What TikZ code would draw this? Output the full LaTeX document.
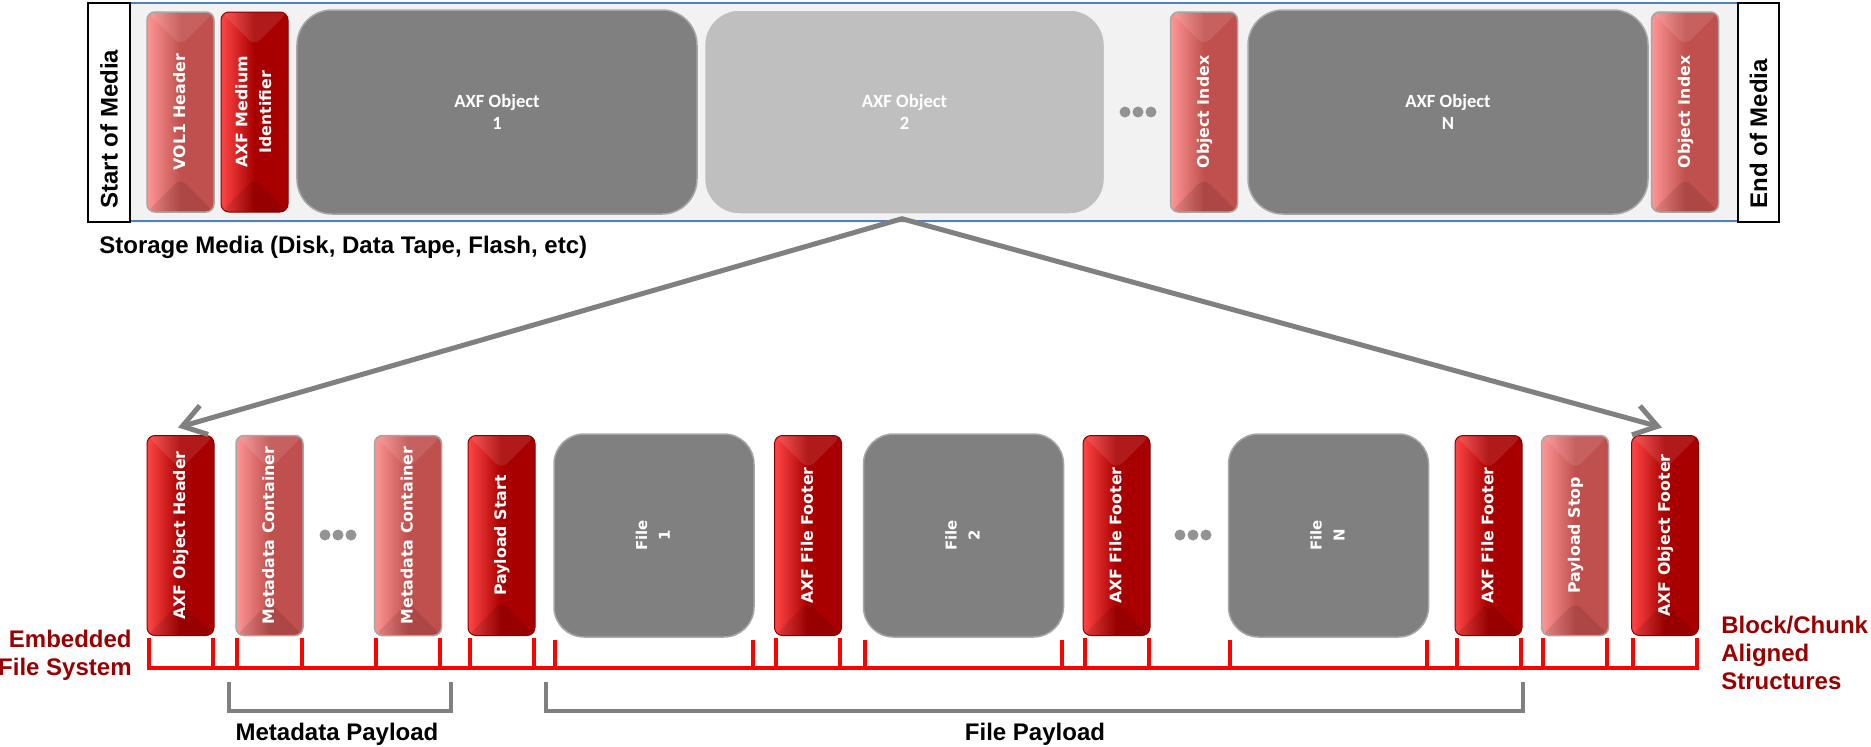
\documentclass[tikz,border=0pt]{standalone}
\usepackage{fontspec}
\setmainfont{Liberation Sans}
\newfontfamily\blockfont{DejaVu Sans}
\newfontfamily\objfont{Carlito}
\usetikzlibrary{positioning, calc, arrows.meta, backgrounds}

\definecolor{axfRed}{RGB}{168,0,0}
\definecolor{axfRedHi}{RGB}{255,70,70}
\definecolor{axfPink}{RGB}{192,80,77}
\definecolor{axfPinkHi}{RGB}{255,150,150}
\definecolor{axfGray}{RGB}{128,128,128}
\definecolor{axfLight}{RGB}{191,191,191}
\definecolor{labelRed}{RGB}{155,0,0}
\definecolor{chunkRed}{RGB}{255,0,0}
\definecolor{stripBlue}{RGB}{79,129,189}
\definecolor{stripFill}{RGB}{242,242,242}

% vertical (bottom-to-top) text inside a block
\newcommand{\vtext}[1]{\rotatebox{90}{\begin{tabular}{@{}c@{}}#1\end{tabular}}}

\begin{document}
\begin{tikzpicture}[
    x=0.2mm, y=-0.2mm,
    >={Straight Barb[length=4.5mm, width=6mm]},
    block/.style={rectangle, rounded corners=1.6mm, minimum width=13.4mm, minimum height=40mm,
        inner sep=0pt, text=white, font=\blockfont\bfseries\fontsize{9}{13.5}\selectfont,
        path picture={
            \fill[white, opacity=0.10] (path picture bounding box.north west) -- (path picture bounding box.north east)
                -- ([yshift=-6.7mm]path picture bounding box.north) -- cycle;
            \fill[black, opacity=0.10] (path picture bounding box.south west) -- (path picture bounding box.south east)
                -- ([yshift=6.7mm]path picture bounding box.south) -- cycle;
        }},
    redblk/.style={block, draw=axfRed!80!black, line width=0.2mm, left color=axfRedHi, right color=axfRed, middle color=axfRed},
    pinkblk/.style={block, draw=gray!70, line width=0.3mm, left color=axfPinkHi, right color=axfPink, middle color=axfPink},
    bigobj/.style={rectangle, rounded corners=7mm, minimum width=80mm, minimum height=40.8mm, fill=axfGray,
        draw=gray!70!white, line width=0.3mm, text=white, align=center,
        font=\objfont\bfseries\fontsize{10.6}{13}\selectfont},
    fileobj/.style={rectangle, rounded corners=6mm, minimum width=40mm, minimum height=40.6mm, fill=axfGray,
        draw=gray!70!white, line width=0.3mm, text=white, inner sep=0pt,
        font=\blockfont\bfseries\fontsize{8.5}{13}\selectfont},
    ellip/.style={circle, fill=axfGray!85!white, minimum size=2.2mm, inner sep=0pt},
    mediabox/.style={rectangle, draw=black, fill=white, line width=0.4mm, minimum width=8.3mm, minimum height=43.8mm,
        inner sep=0pt, text height=38.4mm, text depth=0pt, font=\bfseries\fontsize{13.66}{16}\selectfont},
    stripline/.style={draw=stripBlue, line width=0.5mm},
    chunk/.style={draw=chunkRed, line width=0.8mm, line cap=rect},
    bracket/.style={draw=axfGray, line width=0.8mm},
    zoomarr/.style={<->, draw=axfGray, line width=1mm},
    redlbl/.style={text=labelRed, font=\bfseries\fontsize{13.66}{15.9}\selectfont, inner sep=0pt},
    paylbl/.style={font=\bfseries\fontsize{13.66}{16}\selectfont, inner sep=0pt}
]
\useasboundingbox (0,0) rectangle (1871,747);

% storage media
\node[mediabox] (startM) at (109, 112.5) {\rotatebox{90}{Start of Media}};
\node[mediabox] (endM) at (1758.5, 112.5) {\rotatebox{90}{End of Media}};

\node[pinkblk] (vol) at (180.5,112) {\vtext{VOL1 Header}};
\node[redblk] (ami) at (254.5,112) {\vtext{AXF Medium\\Identifier}};
\node[bigobj] (obj1) at (497,112) {AXF Object\\1};
\node[bigobj, fill=axfLight, draw=white!90!gray] (obj2) at (904.5,112) {AXF Object\\2};
\foreach \k in {1,2,3} {
    \node[ellip] (dtop\k) at (1112+13*\k, 112) {};
}
\node[pinkblk] (idx1) at (1204,112) {\vtext{Object Index}};
\node[bigobj] (objN) at (1448,112) {AXF Object\\N};
\node[pinkblk] (idx2) at (1685,112) {\vtext{Object Index}};

\node[paylbl, anchor=base west] (media) at (99,253) {Storage Media (Disk, Data Tape, Flash, etc)};

% AXF object
\node[redblk] (hdr) at (180.5,535.5) {\vtext{AXF Object Header}};
\node[pinkblk] (mc1) at (269.5,535.5) {\vtext{Metadata Container}};
\foreach \k in {1,2,3} {
    \node[ellip] (dmd\k) at (325+13*\k-13, 535) {};
}
\node[pinkblk] (mc2) at (408,535.5) {\vtext{Metadata Container}};
\node[redblk] (pst) at (501.5,535.5) {\vtext{Payload Start}};
\node[fileobj] (f1) at (654,535.5) {\vtext{File\\1}};
\node[redblk] (ff1) at (808,535.5) {\vtext{AXF File Footer}};
\node[fileobj] (f2) at (963.5,535.5) {\vtext{File\\2}};
\node[redblk] (ff2) at (1116.5,535.5) {\vtext{AXF File Footer}};
\foreach \k in {1,2,3} {
    \node[ellip] (dfl\k) at (1180+13*\k-13, 535) {};
}
\node[fileobj] (fN) at (1328.5,535.5) {\vtext{File\\N}};
\node[redblk] (ff3) at (1488.5,535.5) {\vtext{AXF File Footer}};
\node[pinkblk] (psp) at (1575,535.5) {\vtext{Payload Stop}};
\node[redblk] (ftr) at (1665,535.5) {\vtext{AXF Object Footer}};

\draw[zoomarr] ($(hdr.north)+(-2.5,-7.5)$) -- ($(obj2.south)+(-2.5,4)$) -- ($(ftr.north)+(-3,-7.5)$);

% block alignment
\coordinate (base) at (0,668);
\draw[chunk] ($(hdr.south west |- base)+(2,0)$) -- ($(ftr.south east |- base)+(-2,0)$);
\foreach \n in {hdr,mc1,mc2,pst,f1,ff1,f2,ff2,fN,ff3,psp,ftr} {
    \draw[chunk] ($(\n.south west)+(2,4)$) -- ($(\n.south west |- base)+(2,0)$);
    \draw[chunk] ($(\n.south east)+(-2,4)$) -- ($(\n.south east |- base)+(-2,0)$);
}

\node[redlbl, align=right, anchor=base east] (efs) at (132,675) {Embedded\\File System};
\node[redlbl, align=left, anchor=base west] (bca) at (1721,689) {Block/Chunk\\Aligned\\Structures};

% payload brackets
\coordinate (bktop) at (0,682);
\coordinate (bkbot) at (0,711);
\draw[bracket] ($(mc1.south west |- bktop)+(-6,0)$) -- ($(mc1.south west |- bkbot)+(-6,0)$)
    -- ($(mc2.south east |- bkbot)+(9,0)$) -- ($(mc2.south east |- bktop)+(9,0)$);
\draw[bracket] ($(f1.south west |- bktop)+(-7,0)$) -- ($(f1.south west |- bkbot)+(-7,0)$)
    -- ($(ff3.south east |- bkbot)$) -- ($(ff3.south east |- bktop)$);

\node[paylbl, anchor=base] (mdpay) at (337,740) {Metadata Payload};
\node[paylbl, anchor=base] (fpay) at (1035,740) {File Payload};

\begin{pgfonlayer}{background}
    \fill[white] (0,0) rectangle (1871,747);
    \fill[stripFill] (startM.north east) rectangle (endM.south west);
    \draw[stripline] ($(startM.north east)+(0,1)$) -- ($(endM.north west)+(0,1)$);
    \draw[stripline] ($(startM.south east)+(0,-2)$) -- ($(endM.south west)+(0,-2)$);
\end{pgfonlayer}
\end{tikzpicture}
\end{document}
